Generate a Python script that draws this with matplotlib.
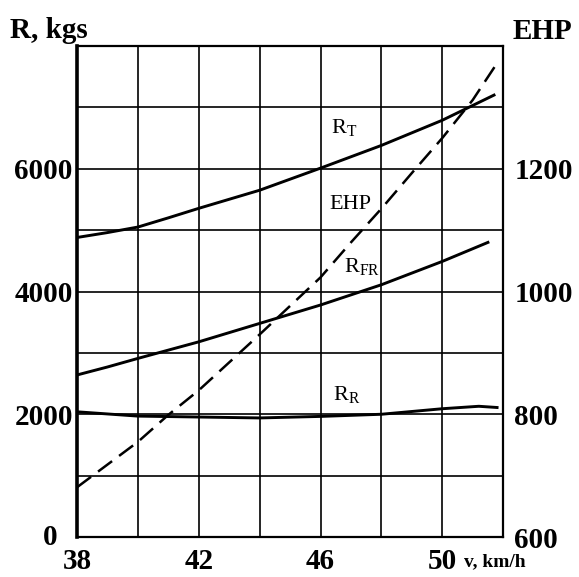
import matplotlib
matplotlib.use('Agg')
import matplotlib.pyplot as plt
import matplotlib.transforms as mtransforms

plt.rcParams['font.family'] = ['Liberation Serif', 'DejaVu Serif']
plt.rcParams['mathtext.fontset'] = 'custom'
plt.rcParams['mathtext.rm'] = 'Liberation Serif'

# speed, km/h
v = [38, 39, 40, 41, 42, 44, 46, 48, 50, 51.7]
# total resistance R_T, kgs
r_t = [4880, 4960, 5050, 5200, 5355, 5650, 6010, 6380, 6790, 7200]
# frictional resistance R_FR, kgs
v_fr = [38, 39, 40, 42, 44, 46, 48, 50, 51.5]
r_fr = [2640, 2770, 2910, 3180, 3480, 3780, 4110, 4490, 4800]
# residual resistance R_R, kgs
v_r = [38, 40, 42, 44, 46, 48, 50, 51.2, 51.8]
r_r = [2040, 1970, 1955, 1940, 1965, 2000, 2090, 2130, 2110]
# effective horsepower
v_ehp = [38, 40, 41, 42, 44, 46, 47, 48, 49, 50, 51, 51.8]
ehp = [681, 755, 799, 839, 930, 1023, 1080, 1135, 1193, 1250, 1312, 1372]

fig = plt.figure(figsize=(5.79, 5.77), dpi=100)
ax = fig.add_axes([0.133, 0.0693, 0.736, 0.851])
ax2 = ax.twinx()

ax.plot(v, r_t, color='black', lw=2.1)
ax.plot(v_fr, r_fr, color='black', lw=2.1)
ax.plot(v_r, r_r, color='black', lw=2.1)
ax2.plot(v_ehp, ehp, color='black', lw=1.8, dashes=(7, 3.5))

ax.set_xlim(38, 52)
ax.set_ylim(0, 8000)
ax2.set_ylim(600, 1400)

ax.set_xticks([38, 42, 46, 50])
ax.set_xticks([40, 44, 48], minor=True)
ax.set_yticks([0, 1000, 2000, 3000, 4000, 5000, 6000, 7000])
ax.set_yticklabels(['', '', '2000', '', '4000', '', '6000', ''])
ax2.set_yticks([600, 800, 1000, 1200])

fs = 21
bold = dict(fontsize=fs, fontweight='bold')
for lab in ax.get_xticklabels() + ax.get_yticklabels() + ax2.get_yticklabels():
    lab.set_fontsize(fs)
    lab.set_fontweight('bold')
ax.tick_params(axis='both', which='both', length=0)
ax.tick_params(axis='x', pad=8)
ax.tick_params(axis='y', pad=3)
ax2.tick_params(axis='y', length=0, pad=8)

ax.grid(True, which='both', color='black', lw=1.2)
ax.set_axisbelow(True)
for s in ax.spines.values():
    s.set_linewidth(1.6)
ax.spines['left'].set_linewidth(2.6)
for s in ax2.spines.values():
    s.set_visible(False)

trans = mtransforms.blended_transform_factory(ax.transAxes, ax.transData)
ax.text(-0.045, 0, '0', transform=trans, ha='right', va='center', **bold)

fig.text(0.018, 0.948, 'R, kgs', ha='left', va='center', **bold)
fig.text(0.885, 0.945, 'EHP', ha='left', va='center', **bold)
fig.text(0.802, 0.027, 'v, km/h', ha='left', va='center', fontsize=14, fontweight='bold')

ax.text(46.33, 6660, r'R$_{\mathrm{T}}$', ha='left', va='center', fontsize=16)
ax.text(46.29, 5410, 'EHP', ha='left', va='center', fontsize=16)
ax.text(46.78, 4400, r'R$_{\mathrm{FR}}$', ha='left', va='center', fontsize=16)
ax.text(46.42, 2310, r'R$_{\mathrm{R}}$', ha='left', va='center', fontsize=16)

fig.savefig('out.png', dpi=100)
